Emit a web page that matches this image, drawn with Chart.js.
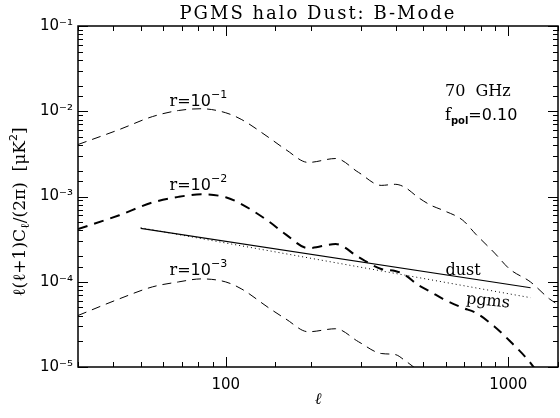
<!DOCTYPE html>
<html>
<head>
<meta charset="utf-8">
<script src="https://cdn.jsdelivr.net/npm/chart.js@4.4.1/dist/chart.umd.min.js"></script>
<style>
  html, body { margin: 0; padding: 0; background: #fff; }
</style>
</head>
<body>
<canvas id="bmodeChart" width="560" height="418"></canvas>
<script>
const ell = [30, 42, 55, 68, 82, 100, 114, 142, 163, 196, 245, 295, 355, 398, 431, 479, 532, 587, 690, 767, 895, 1011, 1198, 1398, 1467];

// tensor B-mode, r = 0.1, 0.01, 0.001  [uK^2]
const r1e1 = [4.07e-3, 6.1e-3, 8.65e-3, 1.02e-2, 1.07e-2, 9.6e-3, 7.97e-3, 4.92e-3, 3.56e-3, 2.51e-3, 2.79e-3, 1.92e-3, 1.35e-3, 1.39e-3, 1.28e-3, 9.8e-4, 7.9e-4, 6.9e-4, 5.27e-4, 3.62e-4, 2.17e-4, 1.41e-4, 9.96e-5, 6.3e-5, 5.65e-5];
const r1e2 = [4.14e-4, 6.03e-4, 8.5e-4, 9.9e-4, 1.06e-3, 9.8e-4, 8.1e-4, 5.1e-4, 3.6e-4, 2.48e-4, 2.77e-4, 1.95e-4, 1.41e-4, 1.34e-4, 1.2e-4, 9.2e-5, 7.6e-5, 6.3e-5, 4.94e-5, 4.32e-5, 2.97e-5, 2.03e-5, 1.12e-5, 5.5e-6, 4.8e-6];
const r1e3 = [4.02e-5, 6.3e-5, 8.7e-5, 9.95e-5, 1.08e-4, 9.95e-5, 8.2e-5, 4.94e-5, 3.67e-5, 2.59e-5, 2.81e-5, 1.98e-5, 1.44e-5, 1.4e-5, 1.19e-5, 9.2e-6, 7.5e-6];

// foregrounds (power laws, end points)
const fgEll = [50, 1200];
const dustVals = [4.22e-4, 8.5e-5];
const pgmsVals = [4.3e-4, 6.5e-5];

const xTickLabels = [100, 1000];

const SUP = { '-': '\u207B', '0': '\u2070', '1': '\u00B9', '2': '\u00B2', '3': '\u00B3', '4': '\u2074', '5': '\u2075', '6': '\u2076', '7': '\u2077', '8': '\u2078', '9': '\u2079' };

function isDecade(v) {
    const l = Math.log10(v);
    return Math.abs(l - Math.round(l)) < 1e-6;
}

function pts(xs, ys) {
    return ys.map((y, i) => ({ x: xs[i], y: y }));
}

function drawParts(ctx, parts, x, y, align) {
    let w = 0;
    parts.forEach(p => { ctx.font = p.font; w += ctx.measureText(p.text).width; });
    let cx = align === 'center' ? x - w / 2 : x;
    parts.forEach(p => {
        ctx.font = p.font;
        ctx.fillText(p.text, cx, y + (p.dy || 0));
        cx += ctx.measureText(p.text).width;
    });
}

const SERIF = 'DejaVu Serif';
const SANS = 'DejaVu Sans';

const idlFrame = {
    id: 'idlFrame',
    afterDatasetsDraw(chart) {
        const ctx = chart.ctx;
        const a = chart.chartArea;
        const xs = chart.scales.x, ys = chart.scales.y;
        ctx.save();
        ctx.strokeStyle = '#000';
        ctx.fillStyle = '#000';
        ctx.lineWidth = 1.5;
        ctx.strokeRect(a.left, a.top, a.right - a.left, a.bottom - a.top);

        // inward ticks on all four sides
        ctx.lineWidth = 1;
        ctx.beginPath();
        xs.ticks.forEach(t => {
            const px = Math.round(xs.getPixelForValue(t.value)) + 0.5;
            const len = isDecade(t.value) ? 10 : 5;
            ctx.moveTo(px, a.bottom); ctx.lineTo(px, a.bottom - len);
            ctx.moveTo(px, a.top); ctx.lineTo(px, a.top + len);
        });
        ys.ticks.forEach(t => {
            const py = Math.round(ys.getPixelForValue(t.value)) + 0.5;
            const len = isDecade(t.value) ? 10 : 5;
            ctx.moveTo(a.left, py); ctx.lineTo(a.left + len, py);
            ctx.moveTo(a.right, py); ctx.lineTo(a.right - len, py);
        });
        ctx.stroke();

        ctx.textBaseline = 'alphabetic';

        // title
        ctx.font = '18px ' + SERIF;
        ctx.letterSpacing = '2px';
        ctx.textAlign = 'center';
        ctx.fillText('PGMS halo Dust: B-Mode', (a.left + a.right) / 2, 19);
        ctx.letterSpacing = '0px';

        // x title
        ctx.font = 'italic 16px ' + SERIF;
        ctx.fillText('\u2113', (a.left + a.right) / 2, 404);
        ctx.textAlign = 'left';

        // y title, rotated
        ctx.save();
        ctx.translate(25, 212);
        ctx.rotate(-Math.PI / 2);
        drawParts(ctx, [
            { text: '\u2113(\u2113+1)C', font: '17px ' + SERIF },
            { text: '\u2113', font: '12px ' + SERIF, dy: 4 },
            { text: '/(2\u03C0)  [\u03BCK', font: '17px ' + SERIF },
            { text: '2', font: '11px ' + SANS, dy: -8 },
            { text: ']', font: '17px ' + SERIF }
        ], 0, 0, 'center');
        ctx.restore();

        // curve labels, anchored in data space
        const rLabels = [[1.16e-2, '-1'], [1.18e-3, '-2'], [1.2e-4, '-3']];
        rLabels.forEach(([v, e]) => {
            drawParts(ctx, [
                { text: 'r=', font: '16px ' + SERIF },
                { text: '10', font: '16px ' + SANS },
                { text: e.replace('-', '\u2212'), font: '11px ' + SANS, dy: -8 }
            ], xs.getPixelForValue(80), ys.getPixelForValue(v), 'center');
        });

        const lx = xs.getPixelForValue(597);
        drawParts(ctx, [{ text: '70  GHz', font: '16px ' + SERIF }], lx, ys.getPixelForValue(1.52e-2), 'left');
        drawParts(ctx, [
            { text: 'f', font: '16px ' + SERIF },
            { text: 'pol', font: 'bold 10px ' + SANS, dy: 4 },
            { text: '=0.10', font: '16px ' + SANS }
        ], lx, ys.getPixelForValue(7.98e-3), 'left');

        drawParts(ctx, [{ text: 'dust', font: '16px ' + SERIF }], xs.getPixelForValue(600), ys.getPixelForValue(1.2e-4), 'left');
        ctx.save();
        ctx.translate(xs.getPixelForValue(707), ys.getPixelForValue(5.6e-5));
        ctx.rotate(0.1);
        drawParts(ctx, [{ text: 'pgms', font: '16px ' + SERIF }], 0, 0, 'left');
        ctx.restore();

        ctx.restore();
    }
};

const ctx = document.getElementById('bmodeChart').getContext('2d');
const bmodeChart = new Chart(ctx, {
    type: 'line',
    data: {
        datasets: [
            { label: 'r=0.1', data: pts(ell, r1e1), borderColor: '#000', borderWidth: 1, borderDash: [9, 6] },
            { label: 'r=0.01', data: pts(ell, r1e2), borderColor: '#000', borderWidth: 2, borderDash: [10, 7] },
            { label: 'r=0.001', data: pts(ell, r1e3), borderColor: '#000', borderWidth: 1, borderDash: [9, 6] },
            { label: 'dust', data: pts(fgEll, dustVals), borderColor: '#000', borderWidth: 1.2 },
            { label: 'pgms', data: pts(fgEll, pgmsVals), borderColor: '#000', borderWidth: 1, borderDash: [1, 3] }
        ]
    },
    options: {
        responsive: false,
        animation: false,
        layout: { padding: { left: 0, right: 2, top: 26, bottom: 0 } },
        plugins: { legend: { display: false }, tooltip: { enabled: false } },
        elements: {
            point: { radius: 0 },
            line: { cubicInterpolationMode: 'monotone', fill: false }
        },
        scales: {
            x: {
                type: 'logarithmic',
                min: 30,
                max: 1500,
                grid: { display: false, drawTicks: false },
                border: { display: false },
                ticks: {
                    autoSkip: false,
                    maxRotation: 0,
                    padding: 9,
                    color: '#000',
                    font: { family: SANS, size: 15 },
                    callback: v => xTickLabels.some(t => Math.abs(t - v) < 1e-6) ? String(Math.round(v)) : ''
                },
                afterFit: s => { s.height = 51; s.paddingLeft = 0; s.paddingRight = 0; }
            },
            y: {
                type: 'logarithmic',
                min: 1e-5,
                max: 1e-1,
                grid: { display: false, drawTicks: false },
                border: { display: false },
                ticks: {
                    autoSkip: false,
                    padding: 5,
                    color: '#000',
                    font: { family: SANS, size: 15 },
                    callback: v => {
                        if (!isDecade(v)) return '';
                        const e = String(Math.round(Math.log10(v)));
                        return '10' + e.split('').map(c => SUP[c]).join('');
                    }
                },
                afterFit: s => { s.width = 78; }
            }
        }
    },
    plugins: [idlFrame]
});
</script>
</body>
</html>
